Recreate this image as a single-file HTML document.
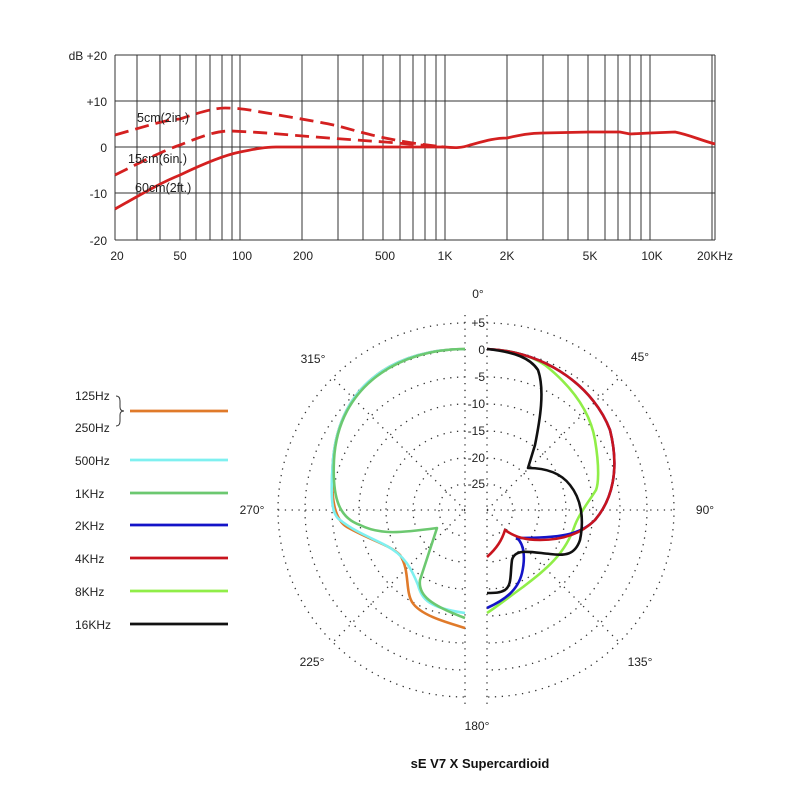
<!DOCTYPE html>
<html><head><meta charset="utf-8"><style>
body{margin:0;background:#fff;}
svg text{font-family:"Liberation Sans",sans-serif;fill:#222;}
</style></head><body>
<svg width="800" height="800" viewBox="0 0 800 800" xmlns="http://www.w3.org/2000/svg">
<g stroke="#333" stroke-width="1">
<line x1="115" y1="55" x2="715" y2="55"/><line x1="115" y1="101" x2="715" y2="101"/>
<line x1="115" y1="147" x2="715" y2="147"/><line x1="115" y1="193" x2="715" y2="193"/>
<line x1="115" y1="240" x2="715" y2="240"/>
<line x1="115" y1="55" x2="115" y2="240"/><line x1="137" y1="55" x2="137" y2="240"/>
<line x1="160" y1="55" x2="160" y2="240"/><line x1="180" y1="55" x2="180" y2="240"/>
<line x1="196" y1="55" x2="196" y2="240"/><line x1="210" y1="55" x2="210" y2="240"/>
<line x1="222" y1="55" x2="222" y2="240"/><line x1="232" y1="55" x2="232" y2="240"/>
<line x1="240" y1="55" x2="240" y2="240"/><line x1="302" y1="55" x2="302" y2="240"/>
<line x1="338" y1="55" x2="338" y2="240"/><line x1="363" y1="55" x2="363" y2="240"/>
<line x1="383" y1="55" x2="383" y2="240"/><line x1="400" y1="55" x2="400" y2="240"/>
<line x1="413" y1="55" x2="413" y2="240"/><line x1="425" y1="55" x2="425" y2="240"/>
<line x1="436" y1="55" x2="436" y2="240"/><line x1="445" y1="55" x2="445" y2="240"/>
<line x1="507" y1="55" x2="507" y2="240"/><line x1="543" y1="55" x2="543" y2="240"/>
<line x1="568" y1="55" x2="568" y2="240"/><line x1="588" y1="55" x2="588" y2="240"/>
<line x1="605" y1="55" x2="605" y2="240"/><line x1="618" y1="55" x2="618" y2="240"/>
<line x1="630" y1="55" x2="630" y2="240"/><line x1="641" y1="55" x2="641" y2="240"/>
<line x1="650" y1="55" x2="650" y2="240"/><line x1="712" y1="55" x2="712" y2="240"/>
<line x1="715" y1="55" x2="715" y2="240"/>
</g>
<g font-size="12" text-anchor="end">
<text x="107" y="60">dB +20</text><text x="107" y="106">+10</text><text x="107" y="152">0</text>
<text x="107" y="198">-10</text><text x="107" y="245">-20</text>
</g>
<g font-size="12" text-anchor="middle">
<text x="117" y="260">20</text><text x="180" y="260">50</text><text x="242" y="260">100</text>
<text x="303" y="260">200</text><text x="385" y="260">500</text><text x="445" y="260">1K</text>
<text x="507" y="260">2K</text><text x="590" y="260">5K</text><text x="652" y="260">10K</text>
<text x="715" y="260">20KHz</text>
</g>
<g fill="none" stroke="#d42020" stroke-width="2.8">
<path d="M115,135 C150,125 165,120 180,119 C200,112 215,108 225,108 C235,108 245,109 255,111 C290,117 320,122 338,126 C360,132 375,136 385,138 C400,141 415,144 445,147" stroke-dasharray="14,7"/>
<path d="M115,175 C145,160 165,150 180,145 C200,137 215,131 230,131 C260,132 290,135 303,136 C340,139 370,141 385,142 C410,144 430,146 445,147" stroke-dasharray="14,7"/>
<path d="M115,209 C140,195 160,183 180,175 C205,163 225,155 240,152 C255,149 265,147 276,147 L445,147 C455,148 462,148 470,145 C485,141 495,138 507,138 C520,135 530,133 543,133 L590,132 L620,132 L630,134 L650,133 L675,132 C690,135 700,140 715,144"/>
</g>
<g font-size="12.5">
<text x="137" y="122">5cm(2in.)</text><text x="128" y="163">15cm(6in.)</text><text x="135" y="192">60cm(2ft.)</text>
</g>
<g fill="none" stroke="#333" stroke-width="1.3" stroke-dasharray="1.3,5.5">
<path d="M465,323 A187,187 0 0 0 465,697 M465,350 A160,160 0 0 0 465,670 M465,377 A133,133 0 0 0 465,643 M465,404 A106,106 0 0 0 465,616 M465,431 A79,79 0 0 0 465,589 M465,458 A52,52 0 0 0 465,562 M465,484 A26,26 0 0 0 465,536"/>
<path d="M487,323 A187,187 0 0 1 487,697 M487,350 A160,160 0 0 1 487,670 M487,377 A133,133 0 0 1 487,643 M487,404 A106,106 0 0 1 487,616 M487,431 A79,79 0 0 1 487,589 M487,458 A52,52 0 0 1 487,562 M487,484 A26,26 0 0 1 487,536"/>
<line x1="465" y1="315" x2="465" y2="705"/><line x1="487" y1="315" x2="487" y2="705"/>
<line x1="278" y1="510" x2="465" y2="510"/><line x1="487" y1="510" x2="674" y2="510"/>
<line x1="465" y1="510" x2="333" y2="378"/><line x1="465" y1="510" x2="333" y2="642"/>
<line x1="487" y1="510" x2="619" y2="378"/><line x1="487" y1="510" x2="619" y2="642"/>
</g>
<g font-size="12" text-anchor="middle">
<text x="478" y="298">0°</text><text x="313" y="363">315°</text><text x="640" y="361">45°</text>
<text x="252" y="514">270°</text><text x="705" y="514">90°</text><text x="312" y="666">225°</text>
<text x="640" y="666">135°</text><text x="477" y="730">180°</text>
</g>
<g font-size="12" text-anchor="end">
<text x="485" y="327">+5</text><text x="485" y="354">0</text><text x="485" y="381">-5</text>
<text x="485" y="408">-10</text><text x="485" y="435">-15</text><text x="485" y="462">-20</text><text x="485" y="488">-25</text>
</g>
<g fill="none" stroke-width="2.6" stroke-linejoin="round">
<path stroke="#e07a2a" d="M465,349 C400,349 340,380 333,460 C330,500 335,520 347,527 C370,540 390,545 400,555 C410,570 405,590 412,602 C420,615 445,622 465,628"/>
<path stroke="#7ff0f0" d="M465,349 C400,349 340,380 333,460 C330,500 332,515 340,520 C355,532 372,538 385,545 C405,555 412,570 418,585 C422,600 430,608 465,613"/>
<path stroke="#6cc870" d="M465,349 C400,349 338,385 334,460 C332,500 340,518 360,525 C380,535 400,533 437,528 L420,580 C418,595 430,605 465,618"/>
<path stroke="#90ee48" d="M487,349 C510,350 530,355 545,365 C570,385 590,410 595,440 C600,470 598,485 596,490 C590,500 580,512 575,525 C565,555 545,570 523,587 C505,600 495,608 487,613"/>
<path stroke="#1414c8" d="M487,349 C550,352 595,390 610,430 C620,470 612,500 595,520 C580,535 560,538 517,538 C525,545 525,560 522,573 C518,590 505,600 487,608"/>
<path stroke="#c8141e" d="M487,349 C550,352 595,390 610,430 C620,470 612,500 595,520 C580,535 560,540 540,540 C525,540 515,537 505,530 C502,540 497,548 487,557"/>
<path stroke="#111" d="M487,349 C515,352 530,358 538,370 C545,390 540,420 535,445 L528,468 C545,468 560,472 570,485 C582,500 584,520 580,540 C575,555 565,556 550,554 C530,552 515,548 512,560 C510,575 512,585 505,590 C500,593 495,593 487,593"/>
</g>
<g font-size="12">
<text x="75" y="400">125Hz</text><text x="75" y="432">250Hz</text>
<text x="75" y="465">500Hz</text><text x="75" y="498">1KHz</text><text x="75" y="530">2KHz</text>
<text x="75" y="563">4KHz</text><text x="75" y="596">8KHz</text><text x="75" y="629">16KHz</text>
</g>
<path d="M116,396 q4,0 4,5 v6 q0,4 4,4 q-4,0 -4,4 v6 q0,5 -4,5" fill="none" stroke="#333" stroke-width="1"/>
<g stroke-width="2.8">
<line x1="130" y1="411" x2="228" y2="411" stroke="#e07a2a"/>
<line x1="130" y1="460" x2="228" y2="460" stroke="#7ff0f0"/>
<line x1="130" y1="493" x2="228" y2="493" stroke="#6cc870"/>
<line x1="130" y1="525" x2="228" y2="525" stroke="#1414c8"/>
<line x1="130" y1="558" x2="228" y2="558" stroke="#c8141e"/>
<line x1="130" y1="591" x2="228" y2="591" stroke="#90ee48"/>
<line x1="130" y1="624" x2="228" y2="624" stroke="#111"/>
</g>
<text x="480" y="768" font-size="13" font-weight="bold" text-anchor="middle" style="fill:#111">sE V7 X  Supercardioid</text>
</svg>
</body></html>
